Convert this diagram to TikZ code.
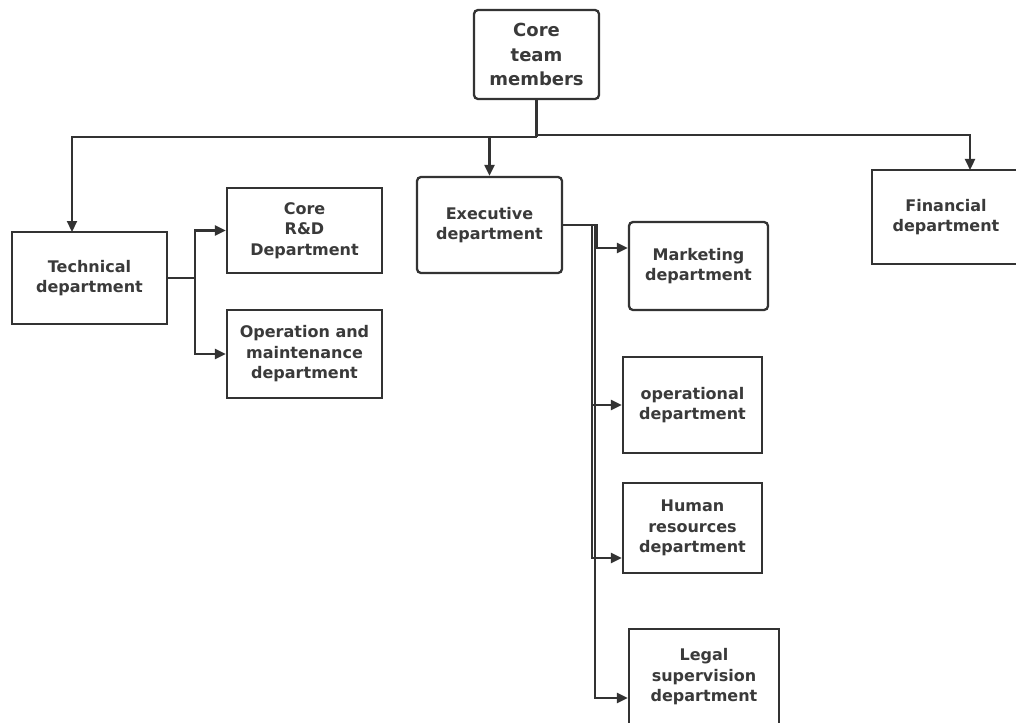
\documentclass[tikz,border=0pt]{standalone}
\usepackage{fontspec}
\setmainfont{DejaVu Sans}
\usetikzlibrary{arrows.meta}
\definecolor{ink}{HTML}{333333}
\definecolor{txt}{HTML}{3A3A3A}
\begin{document}
\begin{tikzpicture}[x=1pt,y=-1pt,
  box/.style={draw=ink, line width=2.3pt, fill=white, align=center, text=txt,
    font=\bfseries\fontsize{16}{20.5}\selectfont, inner sep=0pt, anchor=center},
  roundbox/.style={box, rounded corners=4pt},
  conn/.style={draw=ink, line width=2.2pt, -{Triangle[length=11pt,width=10pt]}},
  link/.style={draw=ink, line width=2.2pt}]
\useasboundingbox (0,0) rectangle (1016,722);
\clip (0,0) rectangle (1016,722);

% nodes
\node[roundbox, minimum width=125pt, minimum height=89pt,
      font=\bfseries\fontsize{18}{24.5}\selectfont] (core) at (536.5,54.5) {Core\\team\\members};
\node[box, minimum width=155pt, minimum height=92pt] (tech) at (89.5,278) {Technical\\department};
\node[box, minimum width=155pt, minimum height=85pt] (rd) at (304.5,230.5) {Core\\R\&D\\Department};
\node[box, minimum width=155pt, minimum height=88pt] (om) at (304.5,354) {Operation and\\maintenance\\department};
\node[roundbox, minimum width=145pt, minimum height=96pt] (exec) at (489.5,225) {Executive\\department};
\node[roundbox, minimum width=139pt, minimum height=88pt] (mkt) at (698.5,266) {Marketing\\department};
\node[box, minimum width=139pt, minimum height=96pt] (ops) at (692.5,405) {operational\\department};
\node[box, minimum width=139pt, minimum height=90pt] (hr) at (692.5,528) {Human\\resources\\department};
\node[box, minimum width=150pt, minimum height=96pt] (legal) at (704,677) {Legal\\supervision\\department};
\node[box, minimum width=148pt, minimum height=94pt] (fin) at (946,217) {Financial\\department};

% bus points below the core team box
\coordinate (busL) at (536.5,137);
\coordinate (busR) at (536.5,135);
\coordinate (techin) at (72,232);
\coordinate (finin) at (970,170);

\draw[link] (core.south) -- (busL);
\draw[conn] (busL) -| (techin);
\draw[conn] (busL) -| (exec.north);
\draw[conn] (busR) -| (finin);

% technical department branches
\coordinate (tfork) at (195,278);
\draw[link] (tech.east) -- (tfork);
\draw[conn] (tfork) |- (rd.west);
\draw[conn] (tfork) |- (om.west);

% executive department branches
\draw[conn] (exec.east) -- (597,225) |- (mkt.west |- 0,248);
\draw[conn] (exec.east) -- (592,225) |- (ops.west);
\draw[conn] (exec.east) -- (592,225) |- (hr.west |- 0,558);
\draw[conn] (exec.east) -- (595,225) |- (legal.west |- 0,698);
\end{tikzpicture}
\end{document}
